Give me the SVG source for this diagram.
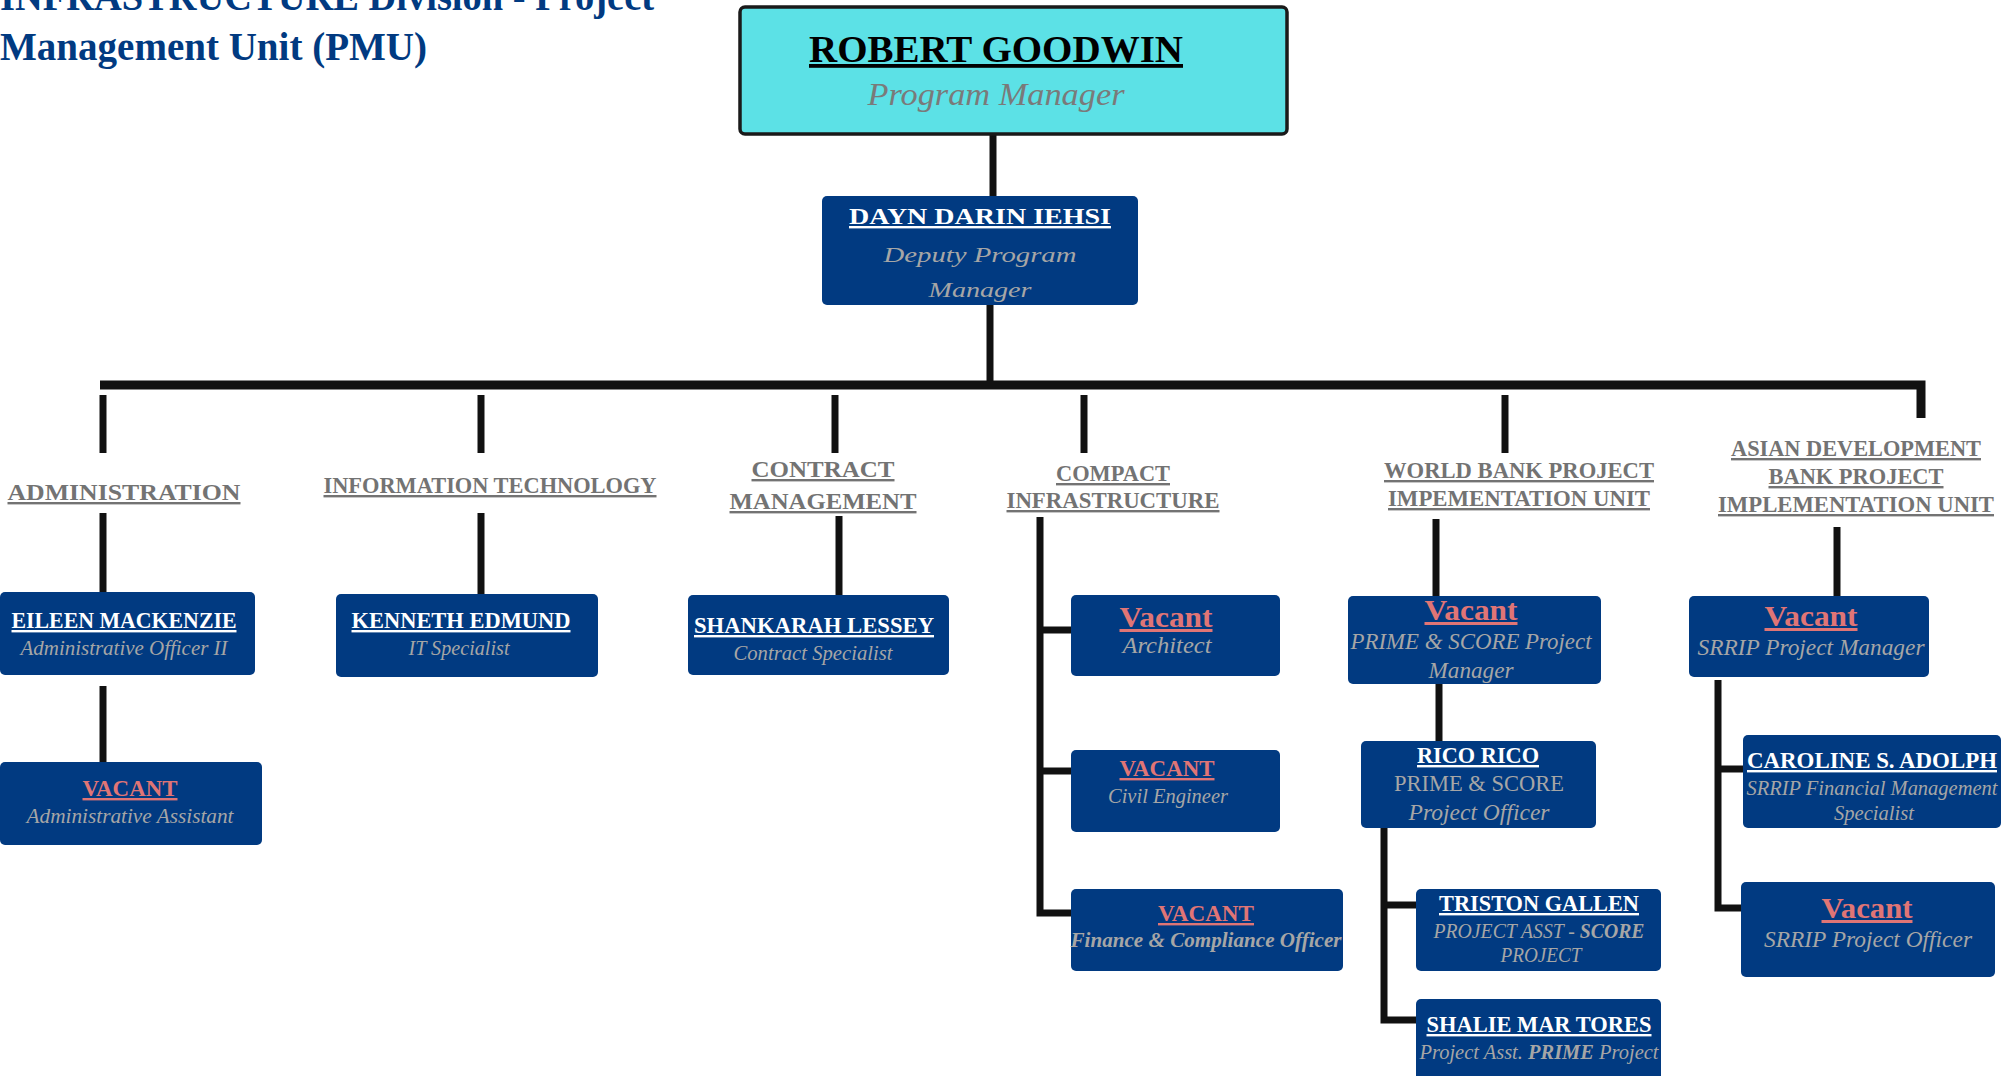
<svg xmlns="http://www.w3.org/2000/svg" width="2007" height="1076" viewBox="0 0 2007 1076">
<style>
text{font-family:"Liberation Serif","DejaVu Serif",serif}
.title{font-weight:bold;fill:#013a81;font-size:39px}
.nm{font-weight:bold;fill:#ffffff;text-decoration:underline;text-anchor:middle;font-size:24px}
.vac{font-weight:bold;fill:#e07575;text-decoration:underline;text-anchor:middle;font-size:24px}
.vac2{font-weight:bold;fill:#e07575;text-decoration:underline;text-anchor:middle;font-size:30px}
.sub{font-style:italic;fill:#a6a6a6;text-anchor:middle;font-size:20px}
.sub2{font-style:italic;fill:#a6a6a6;text-anchor:middle;font-size:23px}
.up{font-style:normal}
.dept{font-weight:bold;fill:#737373;text-decoration:underline;text-anchor:middle;font-size:24px}
.box{fill:#013a81}
.ln{stroke:#111111;stroke-width:7;fill:none;stroke-linecap:butt}
.bar{stroke:#111111;stroke-width:9;fill:none}
</style>
<rect width="2007" height="1076" fill="#ffffff"/>
<g id="title">
<text class="title" x="0" y="10" textLength="654" lengthAdjust="spacingAndGlyphs">INFRASTRUCTURE Division - Project</text>
<text class="title" x="0" y="60" textLength="427" lengthAdjust="spacingAndGlyphs">Management Unit (PMU)</text>
</g>
<g id="connectors">
<line class="ln" x1="993" y1="135" x2="993" y2="197"/>
<line class="ln" x1="990" y1="305" x2="990" y2="385"/>
<polyline class="bar" points="100,385 1921,385 1921,418"/>
<line class="ln" x1="103" y1="395" x2="103" y2="453"/>
<line class="ln" x1="481" y1="395" x2="481" y2="453"/>
<line class="ln" x1="835" y1="395" x2="835" y2="453"/>
<line class="ln" x1="1084" y1="395" x2="1084" y2="453"/>
<line class="ln" x1="1505" y1="395" x2="1505" y2="453"/>
<line class="ln" x1="103" y1="513" x2="103" y2="593"/>
<line class="ln" x1="103" y1="686" x2="103" y2="763"/>
<line class="ln" x1="481" y1="513" x2="481" y2="595"/>
<line class="ln" x1="839" y1="516" x2="839" y2="596"/>
<polyline class="ln" points="1040,517 1040,913 1071,913"/>
<line class="ln" x1="1040" y1="630" x2="1072" y2="630"/>
<line class="ln" x1="1040" y1="771" x2="1072" y2="771"/>
<line class="ln" x1="1436" y1="519" x2="1436" y2="597"/>
<line class="ln" x1="1439" y1="684" x2="1439" y2="742"/>
<polyline class="ln" points="1384,828 1384,1020 1416,1020"/>
<line class="ln" x1="1384" y1="905" x2="1416" y2="905"/>
<line class="ln" x1="1837" y1="527" x2="1837" y2="597"/>
<polyline class="ln" points="1718,680 1718,908 1743,908"/>
<line class="ln" x1="1718" y1="769" x2="1744" y2="769"/>
</g>
<g id="robert">
<rect x="740" y="7" width="547" height="127" rx="5" fill="#5ce1e6" stroke="#1a1a1a" stroke-width="3.5"/>
<text x="996" y="62" text-anchor="middle" font-weight="bold" font-size="38" fill="#000" text-decoration="underline" textLength="374" lengthAdjust="spacingAndGlyphs">ROBERT GOODWIN</text>
<text x="996" y="105" text-anchor="middle" font-style="italic" font-size="32" fill="#7a7a7a" textLength="257" lengthAdjust="spacingAndGlyphs">Program Manager</text>
</g>
<g id="dayn">
<rect class="box" x="822" y="196" width="316" height="109" rx="5"/>
<text class="nm" x="980" y="224" font-size="27" textLength="262" lengthAdjust="spacingAndGlyphs">DAYN DARIN IEHSI</text>
<text class="sub" x="980" y="262" font-size="28" textLength="193" lengthAdjust="spacingAndGlyphs">Deputy Program</text>
<text class="sub" x="980" y="297" font-size="28" textLength="103" lengthAdjust="spacingAndGlyphs">Manager</text>
</g>
<g id="depts">
<text class="dept" x="124" y="500" textLength="233" lengthAdjust="spacingAndGlyphs">ADMINISTRATION</text>
<text class="dept" x="490" y="493" font-size="22" textLength="333" lengthAdjust="spacingAndGlyphs">INFORMATION TECHNOLOGY</text>
<text class="dept" x="823" y="477" textLength="143" lengthAdjust="spacingAndGlyphs">CONTRACT</text>
<text class="dept" x="823" y="509" textLength="187" lengthAdjust="spacingAndGlyphs">MANAGEMENT</text>
<text class="dept" x="1113" y="481" font-size="22" textLength="114" lengthAdjust="spacingAndGlyphs">COMPACT</text>
<text class="dept" x="1113" y="508" font-size="22" textLength="213" lengthAdjust="spacingAndGlyphs">INFRASTRUCTURE</text>
<text class="dept" x="1519" y="478" font-size="22" textLength="270" lengthAdjust="spacingAndGlyphs">WORLD BANK PROJECT</text>
<text class="dept" x="1519" y="506" font-size="22" textLength="262" lengthAdjust="spacingAndGlyphs">IMPEMENTATION UNIT</text>
<text class="dept" x="1856" y="456" font-size="22" textLength="250" lengthAdjust="spacingAndGlyphs">ASIAN DEVELOPMENT</text>
<text class="dept" x="1856" y="484" font-size="22" textLength="175" lengthAdjust="spacingAndGlyphs">BANK PROJECT</text>
<text class="dept" x="1856" y="512" font-size="22" textLength="276" lengthAdjust="spacingAndGlyphs">IMPLEMENTATION UNIT</text>
</g>
<g id="eileen">
<rect class="box" x="0" y="592" width="255" height="83" rx="5"/>
<text class="nm" x="124" y="628" textLength="225" lengthAdjust="spacingAndGlyphs">EILEEN MACKENZIE</text>
<text class="sub" x="124" y="655" textLength="207" lengthAdjust="spacingAndGlyphs">Administrative Officer II</text>
</g>
<g id="vacant-admin">
<rect class="box" x="0" y="762" width="262" height="83" rx="5"/>
<text class="vac" x="130" y="796" textLength="95" lengthAdjust="spacingAndGlyphs">VACANT</text>
<text class="sub" x="130" y="823" textLength="207" lengthAdjust="spacingAndGlyphs">Administrative Assistant</text>
</g>
<g id="kenneth">
<rect class="box" x="336" y="594" width="262" height="83" rx="5"/>
<text class="nm" x="461" y="628" textLength="219" lengthAdjust="spacingAndGlyphs">KENNETH EDMUND</text>
<text class="sub" x="459" y="655" textLength="101" lengthAdjust="spacingAndGlyphs">IT Specialist</text>
</g>
<g id="shankarah">
<rect class="box" x="688" y="595" width="261" height="80" rx="5"/>
<text class="nm" x="814" y="633" textLength="240" lengthAdjust="spacingAndGlyphs">SHANKARAH LESSEY</text>
<text class="sub" x="813" y="660" textLength="159" lengthAdjust="spacingAndGlyphs">Contract Specialist</text>
</g>
<g id="vacant-architect">
<rect class="box" x="1071" y="595" width="209" height="81" rx="5"/>
<text class="vac2" x="1166" y="627" textLength="93" lengthAdjust="spacingAndGlyphs">Vacant</text>
<text class="sub2" x="1167" y="653" textLength="89" lengthAdjust="spacingAndGlyphs">Architect</text>
</g>
<g id="vacant-civil">
<rect class="box" x="1071" y="750" width="209" height="82" rx="5"/>
<text class="vac" x="1167" y="776" textLength="95" lengthAdjust="spacingAndGlyphs">VACANT</text>
<text class="sub" x="1168" y="803" textLength="120" lengthAdjust="spacingAndGlyphs">Civil Engineer</text>
</g>
<g id="vacant-finance">
<rect class="box" x="1071" y="889" width="272" height="82" rx="5"/>
<text class="vac" x="1206" y="921" textLength="96" lengthAdjust="spacingAndGlyphs">VACANT</text>
<text class="sub" x="1206" y="947" font-weight="bold" textLength="271" lengthAdjust="spacingAndGlyphs">Finance &amp; Compliance Officer</text>
</g>
<g id="vacant-prime">
<rect class="box" x="1348" y="596" width="253" height="88" rx="5"/>
<text class="vac2" x="1471" y="620" textLength="93" lengthAdjust="spacingAndGlyphs">Vacant</text>
<text class="sub2" x="1471" y="649" textLength="241" lengthAdjust="spacingAndGlyphs">PRIME  &amp; SCORE Project</text>
<text class="sub2" x="1471" y="678" textLength="85" lengthAdjust="spacingAndGlyphs">Manager</text>
</g>
<g id="rico">
<rect class="box" x="1361" y="741" width="235" height="87" rx="5"/>
<text class="nm" x="1478" y="763" textLength="122" lengthAdjust="spacingAndGlyphs">RICO RICO</text>
<text class="sub2 up" x="1479" y="791" textLength="170" lengthAdjust="spacingAndGlyphs">PRIME &amp; SCORE</text>
<text class="sub2" x="1479" y="820" textLength="141" lengthAdjust="spacingAndGlyphs">Project Officer</text>
</g>
<g id="triston">
<rect class="box" x="1416" y="889" width="245" height="82" rx="5"/>
<text class="nm" x="1539" y="911" textLength="200" lengthAdjust="spacingAndGlyphs">TRISTON GALLEN</text>
<text class="sub" x="1539" y="938" textLength="211" lengthAdjust="spacingAndGlyphs">PROJECT ASST - <tspan font-weight="bold">SCORE</tspan></text>
<text class="sub" x="1541" y="962" textLength="81" lengthAdjust="spacingAndGlyphs">PROJECT</text>
</g>
<g id="shalie">
<rect class="box" x="1416" y="999" width="245" height="85" rx="5"/>
<text class="nm" x="1539" y="1032" textLength="225" lengthAdjust="spacingAndGlyphs">SHALIE MAR TORES</text>
<text class="sub" x="1539" y="1059" textLength="239" lengthAdjust="spacingAndGlyphs">Project Asst. <tspan font-weight="bold">PRIME</tspan> Project</text>
</g>
<g id="vacant-srrip-pm">
<rect class="box" x="1689" y="596" width="240" height="81" rx="5"/>
<text class="vac2" x="1811" y="626" textLength="93" lengthAdjust="spacingAndGlyphs">Vacant</text>
<text class="sub2" x="1811" y="655" textLength="227" lengthAdjust="spacingAndGlyphs">SRRIP Project Manager</text>
</g>
<g id="caroline">
<rect class="box" x="1743" y="735" width="258" height="93" rx="5"/>
<text class="nm" x="1872" y="768" textLength="250" lengthAdjust="spacingAndGlyphs">CAROLINE  S. ADOLPH</text>
<text class="sub" x="1872" y="795" textLength="251" lengthAdjust="spacingAndGlyphs">SRRIP Financial Management</text>
<text class="sub" x="1874" y="820" textLength="80" lengthAdjust="spacingAndGlyphs">Specialist</text>
</g>
<g id="vacant-srrip-po">
<rect class="box" x="1741" y="882" width="254" height="95" rx="5"/>
<text class="vac2" x="1867" y="918" textLength="91" lengthAdjust="spacingAndGlyphs">Vacant</text>
<text class="sub2" x="1868" y="947" textLength="208" lengthAdjust="spacingAndGlyphs">SRRIP Project Officer</text>
</g>
</svg>
